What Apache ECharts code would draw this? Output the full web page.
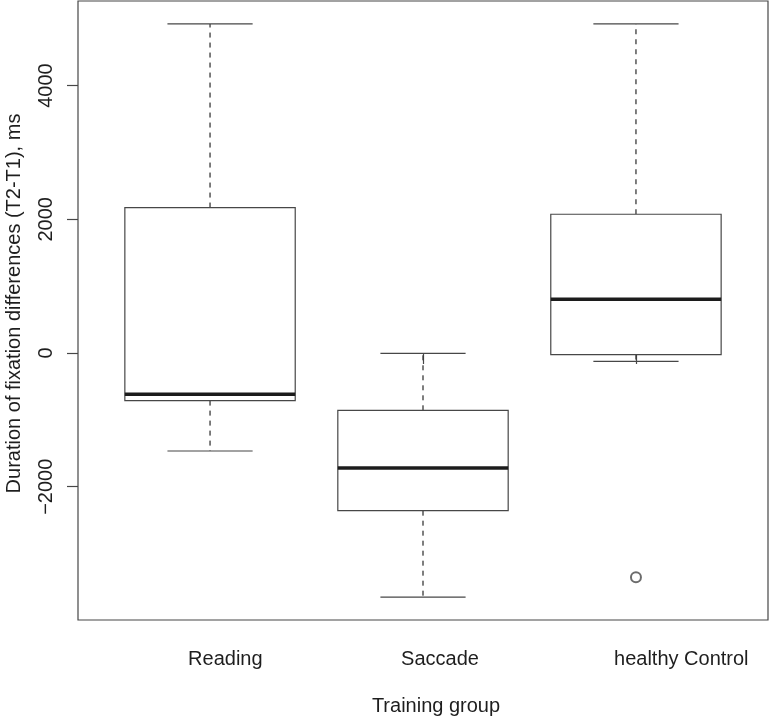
<!DOCTYPE html>
<html>
<head>
<meta charset="utf-8">
<script src="https://cdn.jsdelivr.net/npm/echarts@6/dist/echarts.min.js"></script>
<style>
html,body{margin:0;padding:0;background:#fff;}
#chart{width:770px;height:716px;}
</style>
</head>
<body>
<div id="chart"></div>
<script>
// ---- data ----
const categories = ['Reading', 'Saccade', 'healthy Control'];
const lowerWhisker = [-1466, -3650, -124];
const q1 = [-712, -2358, -24];
const median = [-618, -1720, 803];
const q3 = [2175, -857, 2075];
const upperWhisker = [4921, -5, 4921];
const outlierGroup = [3];
const outlierValue = [-3355];
const yTicks = [-2000, 0, 2000, 4000];
const xTicks = [1, 2, 3];

const FONT = "'Liberation Sans', Arial, Helvetica, sans-serif";
const LINE = '#474747';
const TEXT = '#1e1e1e';
const LABEL_SHIFT = -0.103; // labels start slightly left of each tick (as in the reference)

const boxData = categories.map((c, i) => [i + 1, lowerWhisker[i], q1[i], median[i], q3[i], upperWhisker[i]]);
const outData = outlierGroup.map((g, i) => [g, outlierValue[i]]);

const chart = echarts.init(document.getElementById('chart'), null, {renderer: 'canvas'});

function renderBox(params, api) {
  const x = api.value(0);
  const pLw = api.coord([x, api.value(1)]);
  const pQ1 = api.coord([x, api.value(2)]);
  const pMed = api.coord([x, api.value(3)]);
  const pQ3 = api.coord([x, api.value(4)]);
  const pUw = api.coord([x, api.value(5)]);
  const halfBox = api.size([0.8, 0])[0] / 2;
  const halfCap = halfBox / 2;
  const cx = pMed[0];
  const solid = {stroke: LINE, lineWidth: 1.2, fill: null};
  const dashed = {stroke: '#3a3a3a', lineWidth: 1.3, lineDash: [5, 5]};
  return {
    type: 'group',
    children: [
      {type: 'line', shape: {x1: cx, y1: pQ3[1], x2: cx, y2: pUw[1]}, style: dashed},
      {type: 'line', shape: {x1: cx, y1: pQ1[1], x2: cx, y2: pLw[1]}, style: dashed},
      {type: 'line', shape: {x1: cx - halfCap, y1: pUw[1], x2: cx + halfCap, y2: pUw[1]}, style: solid},
      {type: 'line', shape: {x1: cx - halfCap, y1: pLw[1], x2: cx + halfCap, y2: pLw[1]}, style: solid},
      {type: 'rect', shape: {x: cx - halfBox, y: pQ3[1], width: halfBox * 2, height: pQ1[1] - pQ3[1]},
        style: {stroke: LINE, lineWidth: 1.2, fill: '#fff'}},
      {type: 'line', shape: {x1: cx - halfBox, y1: pMed[1], x2: cx + halfBox, y2: pMed[1]},
        style: {stroke: '#1c1c1c', lineWidth: 3.5}}
    ]
  };
}

const option = {
  animation: false,
  backgroundColor: '#fff',
  grid: {
    left: 78, top: 1, width: 690, height: 619,
    outerBoundsMode: 'none',
    containLabel: false,
    show: true, borderColor: LINE, borderWidth: 1.2, backgroundColor: 'transparent'
  },
  xAxis: {
    type: 'value',
    min: 0.38, max: 3.62,
    axisLine: {show: false},
    splitLine: {show: false},
    axisTick: {show: true, customValues: xTicks, length: 11, lineStyle: {color: LINE, width: 1.2}},
    axisLabel: {
      customValues: xTicks.map(v => v + LABEL_SHIFT), align: 'left',
      margin: 29, fontSize: 20, color: TEXT, fontFamily: FONT,
      formatter: v => categories[Math.round(v - LABEL_SHIFT) - 1]
    },
    name: 'Training group',
    nameLocation: 'middle',
    nameGap: 76,
    nameTextStyle: {fontSize: 20, color: TEXT, fontFamily: FONT, padding: [0, 0, 0, 26]}
  },
  yAxis: {
    type: 'value',
    min: -3993, max: 5264,
    axisLine: {show: false},
    splitLine: {show: false},
    axisTick: {show: true, customValues: yTicks, length: 11, lineStyle: {color: LINE, width: 1.2}},
    axisLabel: {
      customValues: yTicks, rotate: 90, margin: 22, fontSize: 20, color: TEXT, fontFamily: FONT,
      formatter: v => (v < 0 ? '\u2212' + Math.abs(v) : String(v))
    },
    name: 'Duration of fixation differences (T2-T1), ms',
    nameLocation: 'middle',
    nameRotate: 90,
    nameGap: 54,
    nameTextStyle: {fontSize: 20, color: TEXT, fontFamily: FONT, padding: [0, 0, 0, 14]}
  },
  series: [
    {
      type: 'custom',
      renderItem: renderBox,
      data: boxData,
      encode: {x: 0, y: [1, 2, 3, 4, 5]},
      silent: true
    },
    {
      type: 'scatter',
      data: outData,
      symbol: 'emptyCircle',
      symbolSize: 10,
      itemStyle: {color: LINE, borderColor: LINE, borderWidth: 1.2},
      silent: true
    }
  ]
};
chart.setOption(option);
</script>
</body>
</html>
